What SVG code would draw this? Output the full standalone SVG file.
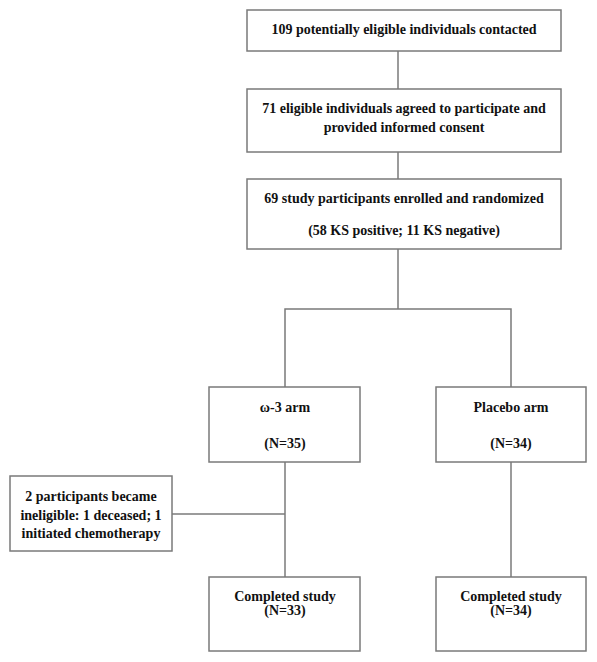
<svg xmlns="http://www.w3.org/2000/svg" width="597" height="662" viewBox="0 0 597 662">
<style>
.box{fill:#fff;stroke:#7a7a7a;stroke-width:1.5}
.ln{fill:none;stroke:#7a7a7a;stroke-width:1.5}
text{font-family:"Liberation Serif","Times New Roman",serif;font-weight:bold;font-size:14px;fill:#111;text-anchor:middle}
</style>
<rect width="597" height="662" fill="#fff"/>
<g id="connectors">
<line class="ln" x1="398" y1="51" x2="398" y2="89"/>
<line class="ln" x1="398" y1="152" x2="398" y2="179"/>
<line class="ln" x1="398" y1="249" x2="398" y2="309"/>
<polyline class="ln" points="285,387 285,309 511,309 511,387"/>
<line class="ln" x1="285" y1="462" x2="285" y2="577"/>
<line class="ln" x1="172" y1="514" x2="285" y2="514"/>
<line class="ln" x1="511" y1="462" x2="511" y2="577"/>
</g>
<g id="contacted">
<rect class="box" x="247" y="10" width="314" height="41"/>
<text x="404" y="34">109 potentially eligible individuals contacted</text>
</g>
<g id="consented">
<rect class="box" x="247" y="89" width="314" height="63"/>
<text x="404" y="113">71 eligible individuals agreed to participate and</text>
<text x="404" y="132">provided informed consent</text>
</g>
<g id="randomized">
<rect class="box" x="247" y="179" width="314" height="70"/>
<text x="404" y="203">69 study participants enrolled and randomized</text>
<text x="404" y="235">(58 KS positive; 11 KS negative)</text>
</g>
<g id="omega3">
<rect class="box" x="209" y="387" width="151" height="75"/>
<text x="285" y="412">ω-3 arm</text>
<text x="285" y="448">(N=35)</text>
</g>
<g id="placebo">
<rect class="box" x="436" y="387" width="150" height="75"/>
<text x="511" y="412">Placebo arm</text>
<text x="511" y="448">(N=34)</text>
</g>
<g id="excluded">
<rect class="box" x="10" y="476" width="162" height="75"/>
<text x="91" y="501">2 participants became</text>
<text x="91" y="520">ineligible: 1 deceased; 1</text>
<text x="91" y="538">initiated chemotherapy</text>
</g>
<g id="completed-omega3">
<rect class="box" x="209" y="577" width="151" height="74"/>
<text x="285" y="601">Completed study</text>
<text x="285" y="615">(N=33)</text>
</g>
<g id="completed-placebo">
<rect class="box" x="436" y="577" width="150" height="74"/>
<text x="511" y="601">Completed study</text>
<text x="511" y="615">(N=34)</text>
</g>
</svg>
